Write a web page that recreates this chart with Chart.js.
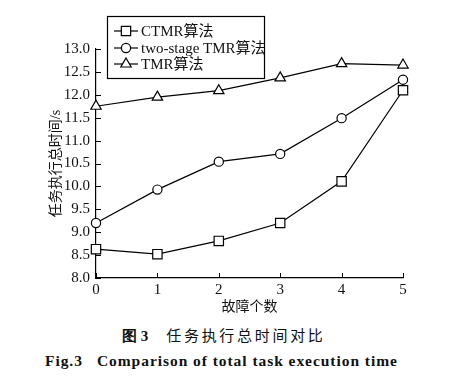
<!DOCTYPE html>
<html>
<head>
<meta charset="utf-8">
<script src="https://cdn.jsdelivr.net/npm/chart.js@4/dist/chart.umd.min.js"></script>
<style>
  body { margin: 0; background: #fff; width: 464px; height: 391px; position: relative; overflow: hidden; }
  #wrap { position: absolute; left: 0; top: 0; width: 464px; height: 320px; }
  .cap { position: absolute; color: #111; white-space: nowrap; }
  #capCn { left: 122px; top: 324px; font: 15px "Noto Sans CJK SC", sans-serif; letter-spacing: 2.7px; }
  #capCn b { font-family: "Liberation Serif", serif; letter-spacing: 0; margin-right: 18px; }
  #capEn { left: 45px; top: 352px; font: bold 15.5px "Liberation Serif", serif; letter-spacing: 0.95px; }
  #capEn span { margin-right: 14px; }
</style>
</head>
<body>
<div id="wrap"><canvas id="c" width="464" height="320"></canvas></div>
<div class="cap" id="capCn"><b>图 3</b>任务执行总时间对比</div>
<div class="cap" id="capEn"><span>Fig.3</span>Comparison of total task execution time</div>
<script>
// 数据
const faults = ['0', '1', '2', '3', '4', '5'];
const ctmr = [8.63, 8.52, 8.81, 9.20, 10.11, 12.10];
const twoStage = [9.20, 9.93, 10.54, 10.71, 11.49, 12.33];
const tmr = [11.75, 11.95, 12.09, 12.37, 12.68, 12.65];
const yTicks = [8.0, 8.5, 9.0, 9.5, 10.0, 10.5, 11.0, 11.5, 12.0, 12.5, 13.0];

const serif = '"Liberation Serif", "Noto Sans CJK SC", serif';

function ds(label, data, style, radius) {
    return {
        label, data,
        borderColor: '#000', borderWidth: 1.2,
        pointStyle: style, pointRadius: radius, pointHoverRadius: radius,
        pointBackgroundColor: '#fff', pointBorderColor: '#000', pointBorderWidth: 1.2,
        tension: 0, fill: false
    };
}

// 内向刻度
const innerTicks = {
    id: 'innerTicks',
    afterDraw(chart) {
        const { ctx, chartArea: a, scales: { x, y } } = chart;
        ctx.save();
        ctx.strokeStyle = '#000';
        ctx.lineWidth = 1;
        ctx.beginPath();
        yTicks.forEach(v => {
            const py = Math.round(y.getPixelForValue(v)) + 0.5;
            ctx.moveTo(a.left, py); ctx.lineTo(a.left + 5, py);
        });
        faults.forEach((f, i) => {
            const px = Math.round(x.getPixelForValue(i)) + 0.5;
            ctx.moveTo(px, a.bottom); ctx.lineTo(px, a.bottom - 5);
        });
        ctx.stroke();
        ctx.restore();
    }
};

// 图例框
const boxLegend = {
    id: 'boxLegend',
    afterDraw(chart) {
        const ctx = chart.ctx;
        const bx = 107.5, by = 16.5, bw = 157, bh = 62;
        ctx.save();
        ctx.fillStyle = '#fff';
        ctx.fillRect(bx, by, bw, bh);
        ctx.strokeStyle = '#000';
        ctx.lineWidth = 1.2;
        ctx.strokeRect(bx, by, bw, bh);
        const rows = [31, 48, 64];
        chart.data.datasets.forEach((d, i) => {
            const yy = rows[i];
            ctx.beginPath();
            ctx.moveTo(114, yy); ctx.lineTo(138, yy);
            ctx.lineWidth = 1.2;
            ctx.strokeStyle = '#000';
            ctx.stroke();
            ctx.fillStyle = '#fff';
            Chart.helpers.drawPoint(ctx, { pointStyle: d.pointStyle, radius: d.pointRadius, borderWidth: 1.2 }, 126, yy);
            ctx.fillStyle = '#111';
            ctx.font = '15px ' + serif;
            ctx.textBaseline = 'middle';
            ctx.fillText(d.label, 141, yy + 1);
        });
        ctx.restore();
    }
};

new Chart(document.getElementById('c'), {
    type: 'line',
    data: {
        labels: faults,
        datasets: [
            ds('CTMR算法', ctmr, 'rect', 6.6),
            ds('two-stage TMR算法', twoStage, 'circle', 4.6),
            ds('TMR算法', tmr, 'triangle', 6)
        ]
    },
    options: {
        responsive: false, animation: false,
        layout: { padding: { left: 0, right: 61, top: 49, bottom: 2 } },
        plugins: { legend: { display: false }, tooltip: { enabled: false } },
        scales: {
            x: {
                offset: false,
                grid: { drawOnChartArea: false, drawTicks: false, offset: false },
                border: { color: '#000', width: 1.2 },
                ticks: { color: '#111', font: { size: 15, family: serif }, padding: 3, maxRotation: 0 },
                title: { display: true, text: '故障个数', color: '#111', font: { size: 14, family: serif }, padding: { top: 0, bottom: 2 } },
                afterFit(s) { s.height = 40; }
            },
            y: {
                min: 8, max: 13,
                grid: { drawOnChartArea: false, drawTicks: false },
                border: { color: '#000', width: 1.2 },
                afterBuildTicks(s) { s.ticks = yTicks.map(v => ({ value: v })); },
                ticks: { color: '#111', font: { size: 15, family: serif }, padding: 6, callback: v => v.toFixed(1) },
                title: { display: true, text: '任务执行总时间/s', color: '#111', font: { size: 14, family: serif }, padding: { top: 48, bottom: 0 } },
                afterFit(s) { s.width = 96; }
            }
        }
    },
    plugins: [innerTicks, boxLegend]
});
</script>
</body>
</html>
